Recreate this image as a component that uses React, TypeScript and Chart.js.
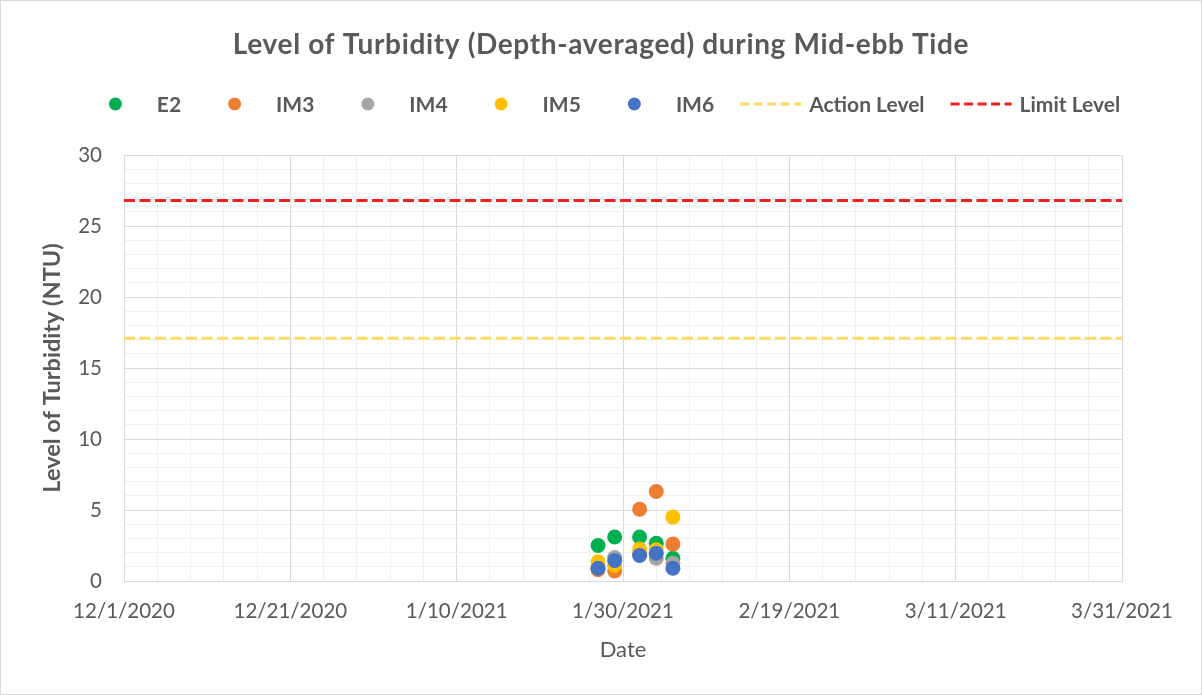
import React, { useEffect, useRef } from 'react';
import { Chart, registerables } from 'chart.js';

Chart.register(...registerables);

// ---- data ----
const chartTitle = 'Level of Turbidity (Depth-averaged) during Mid-ebb Tide';
const xAxisTitle = 'Date';
const yAxisTitle = 'Level of Turbidity (NTU)';

const sampleDates = ['2021-01-27', '2021-01-29', '2021-02-01', '2021-02-03', '2021-02-05'];
const e2Values = [2.5, 3.1, 3.1, 2.65, 1.6];
const im3Values = [0.8, 0.7, 5.05, 6.3, 2.6];
const im4Values = [1.0, 1.65, 1.9, 1.6, 1.25];
const im5Values = [1.35, 1.1, 2.25, 2.2, 4.5];
const im6Values = [0.9, 1.45, 1.8, 1.95, 0.9];

const actionLevel = 17.1;
const limitLevel = 26.8;

const axisStartDate = '2020-12-01';
const axisEndDate = '2021-03-31';
const xMajorDays = 20;
const xMinorDays = 4;
const yMin = 0;
const yMax = 30;
const yMajor = 5;
const yMinor = 1;

const seriesNames = ['E2', 'IM3', 'IM4', 'IM5', 'IM6'];
const seriesValues = [e2Values, im3Values, im4Values, im5Values, im6Values];
const seriesColors = ['#00B050', '#ED7D31', '#A5A5A5', '#FFC000', '#4472C4'];
const levelNames = ['Action Level', 'Limit Level'];
const levelValues = [actionLevel, limitLevel];
const levelColors = ['#FFD966', '#F21E1E'];

// ---- helpers ----
const DAY = 86400000;
const parseUTC = (s: string) => {
  const [y, m, d] = s.split('-').map(Number);
  return Date.UTC(y, m - 1, d);
};
const t0 = parseUTC(axisStartDate);
const dayNum = (s: string) => (parseUTC(s) - t0) / DAY;
const fmtDay = (n: number) => {
  const dt = new Date(t0 + n * DAY);
  return `${dt.getUTCMonth() + 1}/${dt.getUTCDate()}/${dt.getUTCFullYear()}`;
};

const FONT = "Lato, 'Open Sans', 'Noto Sans', sans-serif";
const TEXT = '#595959';
const DASH = [11, 4.5];

const titleLegendPlugin = {
  id: 'titleLegend',
  afterDraw(chart: any) {
    const ctx = chart.ctx as CanvasRenderingContext2D;
    const W = chart.width;
    ctx.save();
    ctx.fillStyle = TEXT;
    ctx.textAlign = 'center';
    ctx.textBaseline = 'middle';
    ctx.font = `bold 28px ${FONT}`;
    (ctx as any).letterSpacing = '0.65px';
    ctx.fillText(chartTitle, W / 2, 44);
    (ctx as any).letterSpacing = '0px';

    // legend
    ctx.font = `bold 21px ${FONT}`;
    const markerW = 67;
    const textGap = 8;
    const itemGap = 20;
    const items = chart.data.datasets.map((ds: any) => ({
      label: ds.label,
      color: ds.borderColor || ds.backgroundColor,
      isLine: !!ds.showLine,
      w: ctx.measureText(ds.label).width,
    }));
    let total = 0;
    items.forEach((it: any, i: number) => {
      total += markerW + textGap + it.w + (i < items.length - 1 ? itemGap : 0);
    });
    let x = W / 2 - total / 2;
    const y = 103;
    ctx.textAlign = 'left';
    items.forEach((it: any) => {
      if (it.isLine) {
        ctx.strokeStyle = it.color;
        ctx.lineWidth = 3;
        ctx.setLineDash([9, 4.5]);
        ctx.beginPath();
        ctx.moveTo(x + 6, y);
        ctx.lineTo(x + markerW, y);
        ctx.stroke();
        ctx.setLineDash([]);
      } else {
        ctx.fillStyle = it.color;
        ctx.beginPath();
        ctx.arc(x + markerW / 2, y, 6.5, 0, Math.PI * 2);
        ctx.fill();
      }
      ctx.fillStyle = TEXT;
      ctx.fillText(it.label, x + markerW + textGap, y + 1);
      x += markerW + textGap + it.w + itemGap;
    });
    ctx.restore();
  },
};

export default function App() {
  const ref = useRef<HTMLCanvasElement | null>(null);

  useEffect(() => {
    if (!ref.current) return;
    const xMin = 0;
    const xMax = dayNum(axisEndDate);
    const xs = sampleDates.map(dayNum);
    const n = seriesNames.length;

    const pointSets = seriesNames.map((name, i) => ({
      label: name,
      data: xs.map((x, j) => ({ x, y: seriesValues[i][j] })),
      backgroundColor: seriesColors[i],
      borderColor: seriesColors[i],
      borderWidth: 0,
      pointRadius: 7.5,
      pointHoverRadius: 7.5,
      showLine: false,
      order: n - i,
    }));
    const lineSets = levelNames.map((name, i) => ({
      label: name,
      data: [
        { x: xMin, y: levelValues[i] },
        { x: xMax, y: levelValues[i] },
      ],
      borderColor: levelColors[i],
      backgroundColor: levelColors[i],
      borderWidth: 3,
      borderDash: DASH,
      pointRadius: 0,
      showLine: true,
      order: 20,
    }));

    const chart = new Chart(ref.current, {
      type: 'scatter',
      data: { datasets: [...pointSets, ...lineSets] as any },
      options: {
        animation: false,
        responsive: false,
        devicePixelRatio: 1,
        layout: { padding: { top: 154, left: 0, right: 79, bottom: 0 } },
        plugins: {
          legend: { display: false },
          title: { display: false },
          tooltip: { enabled: false },
        },
        scales: {
          x: {
            type: 'linear',
            min: xMin,
            max: xMax,
            afterFit: (s: any) => {
              s.height = 113;
            },
            ticks: {
              stepSize: xMinorDays,
              autoSkip: false,
              maxRotation: 0,
              minRotation: 0,
              padding: 18,
              color: TEXT,
              font: { family: FONT, size: 20.5 },
              callback: (v: any) => (Number(v) % xMajorDays === 0 ? fmtDay(Number(v)) : ''),
            },
            grid: {
              drawTicks: false,
              lineWidth: 1,
              color: (c: any) =>
                c.tick && c.tick.value % xMajorDays === 0 ? '#D9D9D9' : '#F0F0F0',
            },
            border: { color: '#D9D9D9', width: 1 },
            title: {
              display: true,
              text: xAxisTitle,
              color: TEXT,
              font: { family: FONT, size: 22 },
              padding: { top: 0, bottom: 31 },
            },
          },
          y: {
            type: 'linear',
            min: yMin,
            max: yMax,
            afterFit: (s: any) => {
              s.width = 123;
            },
            ticks: {
              stepSize: yMinor,
              autoSkip: false,
              padding: 22,
              color: TEXT,
              font: { family: FONT, size: 20.5 },
              callback: (v: any) => (Number(v) % yMajor === 0 ? String(v) : ''),
            },
            grid: {
              drawTicks: false,
              lineWidth: 1,
              color: (c: any) =>
                c.tick && c.tick.value % yMajor === 0 ? '#D9D9D9' : '#F0F0F0',
            },
            border: { color: '#D9D9D9', width: 1 },
            title: {
              display: true,
              text: yAxisTitle,
              color: TEXT,
              font: { family: FONT, size: 23.5, weight: 'bold' },
              padding: { top: 37, bottom: 0 },
            },
          },
        },
      },
      plugins: [titleLegendPlugin],
    });
    return () => chart.destroy();
  }, []);

  return (
    <div
      style={{
        position: 'absolute',
        left: 0,
        top: 0,
        width: 1202,
        height: 695,
        boxSizing: 'border-box',
        border: '1px solid #D9D9D9',
        background: '#fff',
      }}
    >
      <canvas ref={ref} width={1200} height={693} style={{ display: 'block', width: 1200, height: 693 }} />
    </div>
  );
}
